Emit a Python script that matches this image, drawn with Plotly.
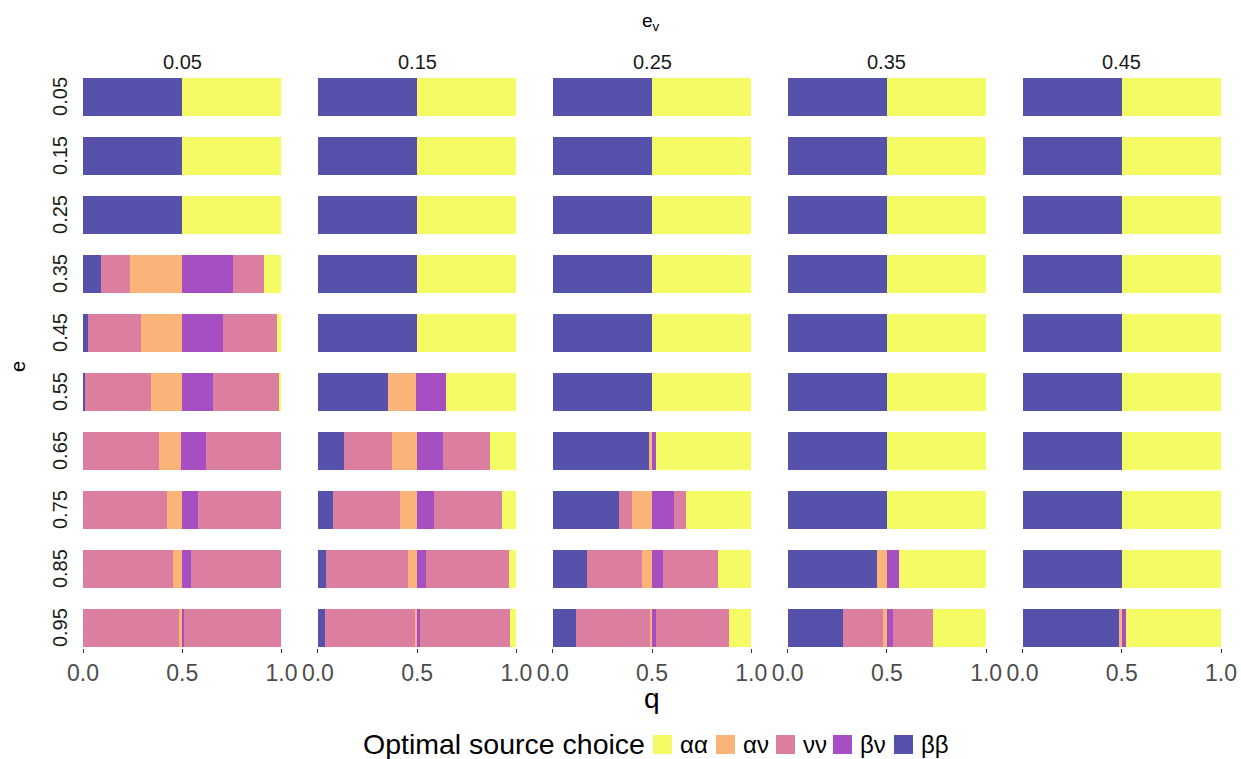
import plotly.graph_objects as go
from plotly.subplots import make_subplots

# Facet values
e_levels = ["0.05", "0.15", "0.25", "0.35", "0.45", "0.55", "0.65", "0.75", "0.85", "0.95"]
ev_levels = ["0.05", "0.15", "0.25", "0.35", "0.45"]
q_ticks = [0.0, 0.5, 1.0]
q_tick_labels = ["0.0", "0.5", "1.0"]

choices = ["αα", "αν", "νν", "βν", "ββ"]
choice_colors = ["#F5FB64", "#FAB47A", "#DB7EA0", "#A54FC2", "#5652AB"]

HALF = [("ββ", 0.50), ("αα", 1.00)]

# Each row (e = 0.05 ... 0.95): ordered segments (choice, q where segment ends)
ev_005 = [
    HALF, HALF, HALF,
    [("ββ", 0.09), ("νν", 0.235), ("αν", 0.50), ("βν", 0.755), ("νν", 0.91), ("αα", 1.00)],
    [("ββ", 0.024), ("νν", 0.294), ("αν", 0.50), ("βν", 0.706), ("νν", 0.978), ("αα", 1.00)],
    [("ββ", 0.01), ("νν", 0.343), ("αν", 0.50), ("βν", 0.653), ("νν", 0.992), ("αα", 1.00)],
    [("νν", 0.383), ("αν", 0.495), ("βν", 0.618), ("νν", 1.00)],
    [("νν", 0.422), ("αν", 0.50), ("βν", 0.578), ("νν", 1.00)],
    [("νν", 0.455), ("αν", 0.50), ("βν", 0.546), ("νν", 1.00)],
    [("νν", 0.487), ("αν", 0.497), ("βν", 0.51), ("νν", 1.00)],
]
ev_015 = [
    HALF, HALF, HALF, HALF, HALF,
    [("ββ", 0.354), ("αν", 0.495), ("βν", 0.647), ("αα", 1.00)],
    [("ββ", 0.133), ("νν", 0.374), ("αν", 0.50), ("βν", 0.628), ("νν", 0.869), ("αα", 1.00)],
    [("ββ", 0.074), ("νν", 0.414), ("αν", 0.50), ("βν", 0.586), ("νν", 0.928), ("αα", 1.00)],
    [("ββ", 0.042), ("νν", 0.455), ("αν", 0.50), ("βν", 0.545), ("νν", 0.96), ("αα", 1.00)],
    [("ββ", 0.034), ("νν", 0.488), ("αν", 0.50), ("βν", 0.512), ("νν", 0.968), ("αα", 1.00)],
]
ev_025 = [
    HALF, HALF, HALF, HALF, HALF, HALF,
    [("ββ", 0.487), ("αν", 0.497), ("βν", 0.517), ("αα", 1.00)],
    [("ββ", 0.334), ("νν", 0.398), ("αν", 0.50), ("βν", 0.609), ("νν", 0.668), ("αα", 1.00)],
    [("ββ", 0.173), ("νν", 0.446), ("αν", 0.50), ("βν", 0.555), ("νν", 0.829), ("αα", 1.00)],
    [("ββ", 0.116), ("νν", 0.488), ("αν", 0.50), ("βν", 0.518), ("νν", 0.888), ("αα", 1.00)],
]
ev_035 = [
    HALF, HALF, HALF, HALF, HALF, HALF, HALF, HALF,
    [("ββ", 0.446), ("αν", 0.50), ("βν", 0.559), ("αα", 1.00)],
    [("ββ", 0.275), ("νν", 0.478), ("αν", 0.50), ("βν", 0.527), ("νν", 0.73), ("αα", 1.00)],
]
ev_045 = [
    HALF, HALF, HALF, HALF, HALF, HALF, HALF, HALF, HALF,
    [("ββ", 0.486), ("αν", 0.50), ("βν", 0.518), ("αα", 1.00)],
]
columns = [ev_005, ev_015, ev_025, ev_035, ev_045]

FONT = "Liberation Sans, Arial, sans-serif"
n_rows, n_cols = len(e_levels), len(ev_levels)

# layout geometry (pixels)
W, H = 1241, 759
ML, MR, MT, MB = 83, 20, 77, 111
PW, PH = W - ML - MR, H - MT - MB


def px_x(px):
    return (px - ML) / PW


def px_y(py):
    return (H - MB - py) / PH


fig = make_subplots(rows=n_rows, cols=n_cols,
                    horizontal_spacing=36.4 / PW,
                    vertical_spacing=19.2 / PH)

color_of = dict(zip(choices, choice_colors))

for ci, col_data in enumerate(columns):
    for ri, segs in enumerate(col_data):
        start = 0.0
        for ch, end in segs:
            fig.add_trace(go.Bar(
                y=[0], x=[end - start], base=[start], orientation="h", width=0.9,
                marker=dict(color=color_of[ch], line=dict(width=0)),
                name=ch, legendgroup=ch, showlegend=False, hoverinfo="skip"),
                row=ri + 1, col=ci + 1)
            start = end

for ri in range(n_rows):
    for ci in range(n_cols):
        bottom = ri == n_rows - 1
        fig.update_xaxes(range=[0, 1], showgrid=False, zeroline=False, showline=False,
                         automargin=False,
                         tickvals=q_ticks, ticktext=q_tick_labels,
                         showticklabels=bottom, ticks="outside" if bottom else "",
                         ticklen=4, tickcolor="#333333", tickwidth=1,
                         tickfont=dict(size=23, color="#4d4d4d", family=FONT),
                         row=ri + 1, col=ci + 1)
        fig.update_yaxes(range=[-0.47, 0.47], visible=False, automargin=False,
                         row=ri + 1, col=ci + 1)

annotations = []
shapes = []
# column strip labels
for ci, lab in enumerate(ev_levels):
    xd = fig.layout[f"xaxis{ci + 1 if ci else ''}"].domain
    annotations.append(dict(text=lab, x=(xd[0] + xd[1]) / 2, y=1, xref="paper", yref="paper",
                            xanchor="center", yanchor="middle", yshift=15.5, showarrow=False,
                            font=dict(size=20, color="#1a1a1a", family=FONT)))
# row strip labels
for ri, lab in enumerate(e_levels):
    idx = ri * n_cols + 1
    yd = fig.layout[f"yaxis{idx if idx > 1 else ''}"].domain
    annotations.append(dict(text=lab, x=0, y=(yd[0] + yd[1]) / 2, xref="paper", yref="paper",
                            xanchor="center", yanchor="middle", xshift=-23, textangle=-90,
                            showarrow=False, font=dict(size=20, color="#1a1a1a", family=FONT)))
annotations += [
    dict(text="e<sub>v</sub>", x=px_x(651), y=px_y(22), xref="paper", yref="paper",
         xanchor="center", yanchor="middle", showarrow=False,
         font=dict(size=19, color="#000000", family=FONT)),
    dict(text="e", x=px_x(18), y=px_y(367), xref="paper", yref="paper", xanchor="center",
         yanchor="middle", textangle=-90, showarrow=False,
         font=dict(size=20, color="#000000", family=FONT)),
    dict(text="q", x=0.5, y=px_y(698), xref="paper", yref="paper", xanchor="center",
         yanchor="middle", showarrow=False, font=dict(size=28, color="#000000", family=FONT)),
    dict(text="Optimal source choice", x=px_x(361), y=px_y(744), xref="paper", yref="paper",
         xanchor="left", yanchor="middle", showarrow=False,
         font=dict(size=28.5, color="#000000", family=FONT)),
]

# legend keys (drawn manually to match the key/label spacing)
key_left = [653, 716, 776, 833, 894]
for ch, kx in zip(choices, key_left):
    shapes.append(dict(type="rect", xref="paper", yref="paper",
                       x0=px_x(kx), x1=px_x(kx + 19), y0=px_y(754), y1=px_y(735),
                       fillcolor=color_of[ch], line=dict(width=0)))
    annotations.append(dict(text=ch, x=px_x(kx + 25), y=px_y(744), xref="paper", yref="paper",
                            xanchor="left", yanchor="middle", showarrow=False,
                            font=dict(size=24, color="#000000", family=FONT)))

fig.update_layout(
    width=W, height=H,
    margin=dict(l=ML, r=MR, t=MT, b=MB, autoexpand=False),
    barmode="overlay", bargap=0,
    plot_bgcolor="white", paper_bgcolor="white",
    font=dict(family=FONT),
    showlegend=False,
    annotations=annotations,
    shapes=shapes,
)

fig.write_html("out.html", config={"displayModeBar": False},
               post_script="document.body.style.margin='0';")
